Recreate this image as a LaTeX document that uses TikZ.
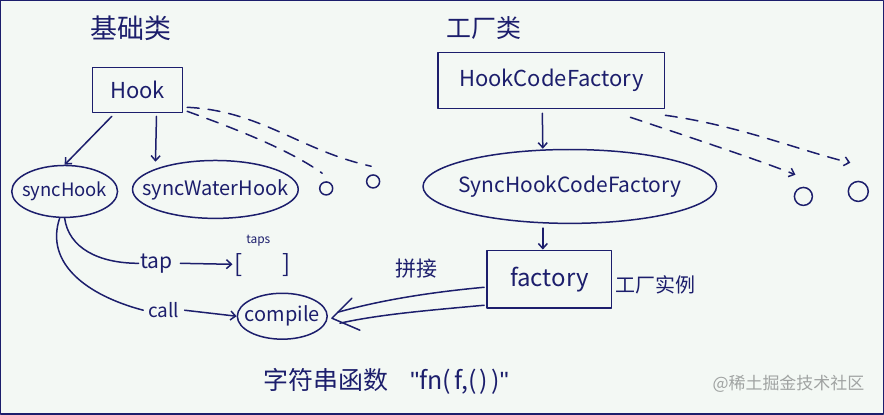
\documentclass[tikz,border=0pt]{standalone}
\usepackage{fontspec}
\setmainfont{Noto Sans CJK SC}
\newfontfamily\lat{Liberation Sans}
\usetikzlibrary{arrows.meta,shapes.geometric,calc}
\definecolor{bg}{HTML}{F3F8F4}
\definecolor{ink}{HTML}{1C1E6C}
\definecolor{wm}{HTML}{A0A3A2}
\newcommand{\fitin}[1]{\makebox[0pt]{#1}}
\tikzset{
  every path/.style={line width=1.5pt, draw=ink, line cap=round, line join=round},
  lbl/.style={text=ink, font=\fontsize{19}{21}\selectfont, inner sep=1pt},
  title/.style={text=ink, font=\fontsize{27}{30}\selectfont, inner sep=1pt},
  rectbox/.style={draw=ink, line width=1.5pt, rectangle, inner sep=0pt, text=ink, font=\fontsize{22}{24}\selectfont},
  ellbox/.style={draw=ink, line width=1.5pt, ellipse, inner sep=0pt, text=ink, font=\fontsize{19}{21}\selectfont},
  dot/.style={draw=ink, line width=1.5pt, circle, inner sep=0pt},
  arr/.style={-{Straight Barb[length=5pt,width=9pt]}},
  dsh/.style={dash pattern=on 12pt off 9pt},
}
\begin{document}
\begin{tikzpicture}[x=1pt,y=-1pt]
\fill[bg, draw=none] (0,0) rectangle (884,414);
\useasboundingbox (0,0) rectangle (884,414);

% titles
\node[title] (t1) at (130,28) {基础类};
\node[title, font=\fontsize{25}{28}\selectfont] (t2) at (484,27) {工厂类};

% base classes
\node[rectbox, minimum width=90pt, minimum height=45pt] (hook) at (137,89.5) {Hook};
\node[ellbox, minimum width=106pt, minimum height=52pt, font=\fontsize{18.5}{20}\selectfont] (sh) at (64,191) {\fitin{syncHook}};
\node[ellbox, minimum width=166pt, minimum height=58pt, font=\fontsize{20}{22}\selectfont] (swh) at (215,189) {\fitin{syncWaterHook}};
\node[dot, minimum size=13pt] (o1) at (326,188) {};
\node[dot, minimum size=13pt] (o2) at (373,181) {};

\draw[arr] ($(hook.south west)+(20,3)$) -- (sh.north);
\draw[arr] ($(hook.south)+(19,3)$) -- ($(swh.north)+(-60,2)$);
\draw[dsh] ($(hook.south east)+(4,-2)$) .. controls (240,130) and (290,150) .. ($(o1.north)+(-4,-8)$);
\draw[dsh] ($(hook.south east)+(4,-6)$) .. controls (260,110) and (300,150) .. ($(o2.north)+(-2,-8)$);

% factory classes
\node[rectbox, minimum width=227pt, minimum height=56pt] (hcf) at (551.5,80) {HookCodeFactory};
\node[ellbox, minimum width=294pt, minimum height=74pt, font=\fontsize{21}{23}\selectfont] (shcf) at (570,186) {\fitin{SyncHookCodeFactory}};
\node[dot, minimum size=18pt] (o3) at (804,196) {};
\node[dot, minimum size=20pt] (o4) at (859,191) {};

\draw[arr] ($(hcf.south)+(-9,4)$) -- ($(shcf.north)+(-27,0)$);
\draw[arr, dsh] ($(hcf.south east)+(-35,8)$) .. controls (700,140) and (760,160) .. ($(o3.north)+(-8,-12)$);
\draw[arr, dsh] ($(hcf.south east)+(0,6)$) .. controls (740,125) and (800,150) .. ($(o4.north)+(-8,-18)$);

% factory instance
\node[rectbox, minimum width=125pt, minimum height=58pt, font=\fontsize{24}{26}\selectfont] (fac) at (549.5,279) {factory};
\node[lbl, font=\fontsize{20}{22}\selectfont] (inst) at (656,285) {工厂实例};
\draw[arr] ($(shcf.south)+(-27,4)$) -- (fac.north -| {$(shcf.south)+(-27,0)$});
\node[lbl, font=\fontsize{21}{23}\selectfont] (pj) at (416,268) {拼接};

% tap / call
\node[lbl, font=\fontsize{21}{23}\selectfont] (tap) at (156,263) {tap};
\node[lbl, font=\fontsize{24}{26}\selectfont] (brk) at (262,265) {[\hspace{40pt}]};
\node[lbl, font=\fontsize{12}{13}\selectfont] (taps) at (258,240) {taps};
\node[lbl] (call) at (163,310) {call};
\node[ellbox, minimum width=90pt, minimum height=46pt, font=\fontsize{20}{22}\selectfont] (comp) at (282,316) {\fitin{compile}};

\draw (sh.south) .. controls ($(sh.south)+(4,30)$) and ($(tap.west)+(-40,0)$) .. (tap.west);
\draw ($(sh.south)+(-5,0)$) .. controls ($(sh.south)+(-20,45)$) and ($(call.west)+(-60,-15)$) .. ($(call.west)+(-3,0)$);
\draw[arr] ($(tap.east)+(6,0)$) -- ($(brk.west)+(0,-1)$);
\draw[arr] ($(call.east)+(4,0)$) -- (comp.west);

% double arrow factory -> compile
\draw ($(fac.west)+(-2,8)$) .. controls (430,292) and (380,300) .. ($(comp.east)+(10,-4)$);
\draw ($(fac.west)+(-2,26)$) .. controls (430,310) and (380,314) .. ($(comp.east)+(12,7)$);
\draw ($(comp.east)+(24,-18)$) -- ($(comp.east)+(4,2)$) -- ($(comp.east)+(32,14)$);

% result text
\node[lbl, font=\fontsize{25}{27}\selectfont] (res) at (386,381) {字符串函数\hspace{22pt}{\lat"}fn(\hspace{4pt}f,(\hspace{3pt})\hspace{3pt}){\lat"}};

% watermark
\node[text=wm, font=\fontsize{17}{19}\selectfont, inner sep=0pt] (wmk) at (789,384) {@稀土掘金技术社区};
\end{tikzpicture}
\end{document}
